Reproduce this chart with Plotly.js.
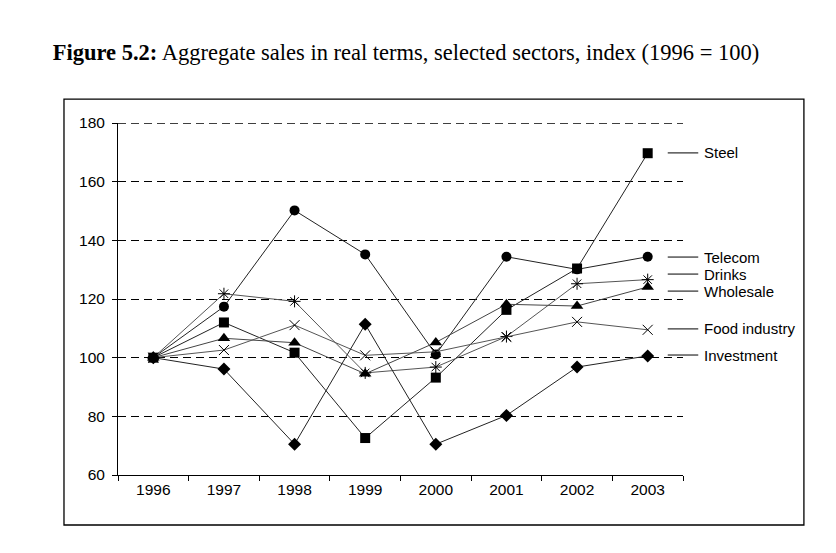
<!DOCTYPE html>
<html>
<head>
<meta charset="utf-8">
<script src="https://cdn.plot.ly/plotly-3.0.1.min.js"></script>
<style>
html,body{margin:0;padding:0;background:#fff;}
#chart{width:836px;height:553px;}
</style>
</head>
<body>
<div id="chart"></div>
<script>
var years = ["1996","1997","1998","1999","2000","2001","2002","2003"];
var steel      = [100, 112, 101.7, 72.6, 93.2, 116.3, 130.4, 169.7];
var telecom    = [100, 117.4, 150.2, 135.2, 101.1, 134.4, 130.1, 134.4];
var drinks     = [100, 121.8, 119.2, 94.8, 96.8, 107.2, 125.2, 126.6];
var wholesale  = [100, 106.6, 105.1, 94.5, 105.2, 118.2, 117.6, 124.1];
var food       = [100, 102.6, 111.1, 100.8, 102.0, 107.0, 112.2, 109.5];
var investment = [100, 96.1, 70.5, 111.4, 70.5, 80.3, 96.8, 100.6];

var seriesNames = ["Steel","Telecom","Drinks","Wholesale","Food industry","Investment"];
var seriesData = [steel, telecom, drinks, wholesale, food, investment];
var symbols = ["square","circle","asterisk-open","triangle-up","x-thin-open","diamond"];
var sizes = [10, 10, 10, 11, 10, 10];
var lineColors = ["#222","#222","#555","#444","#555","#222"];

var traces = seriesData.map(function(d, i){
  var open = symbols[i].indexOf("open") >= 0;
  return {
    type: "scatter", mode: "lines+markers",
    x: years, y: d, name: seriesNames[i],
    line: {color: lineColors[i], width: 1},
    marker: {symbol: symbols[i], size: sizes[i], color: "#000",
             line: {color: "#000", width: open ? 1 : 0}},
    showlegend: false, hoverinfo: "x+y+name"
  };
});

var FONT = "Liberation Sans, Arial, sans-serif";
// label positions (data units on y axis)
var labelY = [169.8, 134.3, 128.5, 122.7, 109.8, 100.9];
var annotations = [];
var shapes = [{
  type: "rect", xref: "paper", yref: "paper",
  x0: -0.0956, x1: 1.214, y0: -0.142, y1: 1.068,
  line: {color: "#000", width: 1.3}, fillcolor: "rgba(0,0,0,0)", layer: "below"
}, {
  type: "line", xref: "paper", yref: "y", x0: 0, x1: 1, y0: 180, y1: 180,
  line: {color: "#000", width: 1.3, dash: "8px,5px"}, layer: "above"
}];
seriesNames.forEach(function(n, i){
  shapes.push({type: "line", xref: "paper", yref: "y",
    x0: 0.973, x1: 1.027, y0: labelY[i], y1: labelY[i],
    line: {color: "#000", width: 1}});
  annotations.push({xref: "paper", yref: "y", x: 1.036, y: labelY[i],
    text: n, showarrow: false, xanchor: "left", yanchor: "middle",
    borderpad: 0,
    font: {family: FONT, size: 15, color: "#000"}});
});

var layout = {
  width: 836, height: 553,
  margin: {l: 118, r: 153, t: 123, b: 78},
  paper_bgcolor: "#fff", plot_bgcolor: "#fff",
  title: {
    text: "<b>Figure 5.2:</b> Aggregate sales in real terms, selected sectors, index (1996 = 100)",
    font: {family: "Liberation Serif, Times New Roman, serif", size: 22.5, color: "#000"},
    xref: "container", x: 0.4856, xanchor: "center",
    yref: "container", y: 0.906, yanchor: "middle"
  },
  xaxis: {
    type: "category", range: [-0.5, 7.5],
    showgrid: false, zeroline: false,
    showline: true, linecolor: "#000", linewidth: 1,
    ticks: "outside", ticklen: 5, tickcolor: "#000", tickson: "boundaries",
    tickfont: {family: FONT, size: 15.5, color: "#000"},
    fixedrange: true
  },
  yaxis: {
    range: [60, 180], tickvals: [60, 80, 100, 120, 140, 160, 180],
    showgrid: true, gridcolor: "#000", gridwidth: 1, griddash: "8px,5px",
    zeroline: false, showline: true, linecolor: "#000", linewidth: 1,
    ticks: "outside", ticklen: 5, tickcolor: "#000", ticklabelstandoff: 4,
    tickfont: {family: FONT, size: 15.5, color: "#000"},
    fixedrange: true
  },
  shapes: shapes,
  annotations: annotations
};

Plotly.newPlot("chart", traces, layout, {displayModeBar: false, staticPlot: true});
</script>
</body>
</html>
